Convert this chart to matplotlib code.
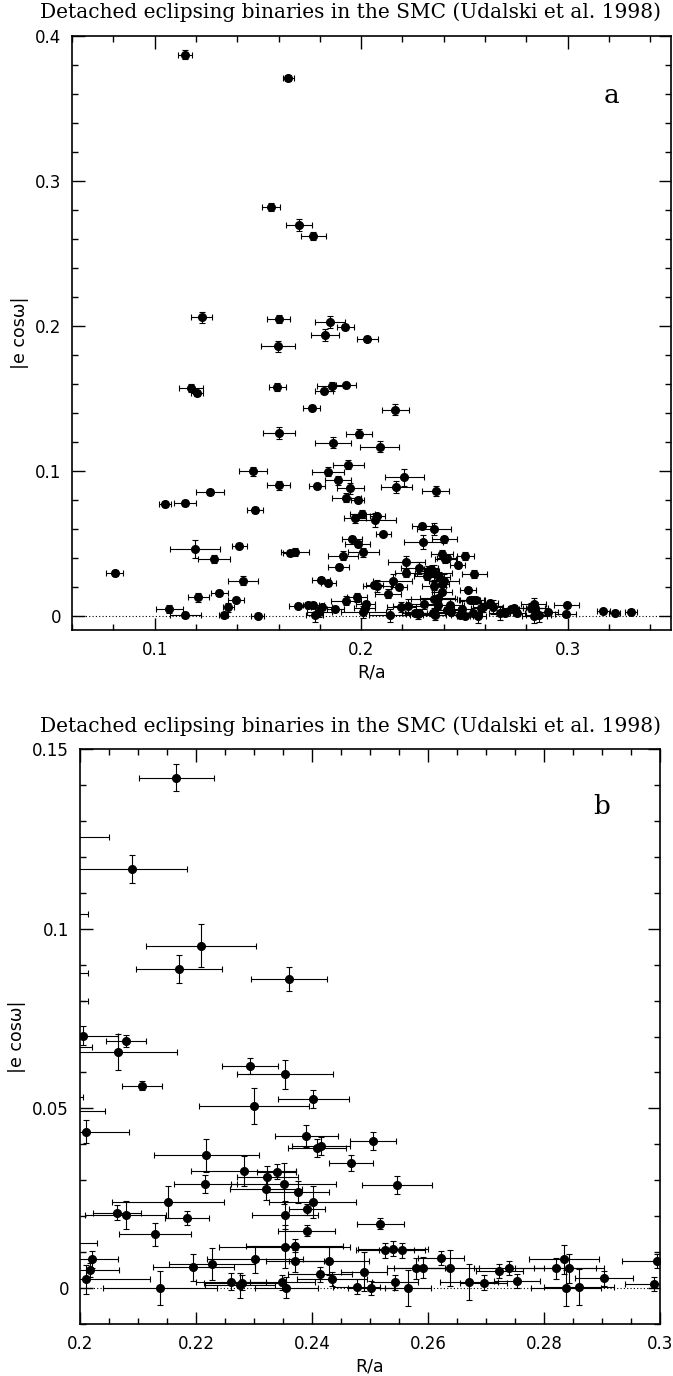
import numpy as np
import matplotlib.pyplot as plt
from matplotlib.ticker import MultipleLocator

# R/a, |e cos w| and their errors
r_a = [0.1147, 0.1648, 0.1565, 0.1698, 0.1769, 0.1228, 0.1600, 0.1849, 0.1924, 0.1825,
       0.2030, 0.1599, 0.1176, 0.1204, 0.1593, 0.1857, 0.1927, 0.1820, 0.1760, 0.1601,
       0.1862, 0.1988, 0.1475, 0.1938, 0.1841, 0.1886, 0.1600, 0.1785, 0.1948, 0.1927,
       0.1983, 0.1268, 0.1050, 0.1147, 0.1488, 0.1969, 0.1956, 0.1983, 0.1912, 0.1891,
       0.1409, 0.1197, 0.1286, 0.1656, 0.1681, 0.1429, 0.1806, 0.1841, 0.1312, 0.1394,
       0.1212, 0.1357, 0.1693, 0.1744, 0.1769, 0.1809, 0.1925, 0.1979, 0.1875, 0.0806,
       0.1334, 0.1071, 0.1148, 0.1499, 0.1775, 0.1798,
       0.2166, 0.2089, 0.2209, 0.2171, 0.2360, 0.2006, 0.2079, 0.2066, 0.2107, 0.2011,
       0.2293, 0.2353, 0.2300, 0.2402, 0.2390, 0.2408, 0.2416, 0.2467, 0.2505, 0.2218,
       0.2282, 0.2323, 0.2339, 0.2216, 0.2351, 0.2320, 0.2375, 0.2152, 0.2401, 0.2392,
       0.2064, 0.2079, 0.2184, 0.2353, 0.2391, 0.2130, 0.2021, 0.2017, 0.2010, 0.2138,
       0.2195, 0.2228, 0.2302, 0.2353, 0.2370, 0.2371, 0.2430, 0.2260, 0.2276, 0.2279,
       0.2349, 0.2356, 0.2414, 0.2434, 0.2490, 0.2477, 0.2502, 0.2543, 0.2566, 0.2592,
       0.2638, 0.2671, 0.2696, 0.2723, 0.2753, 0.2838, 0.2843, 0.2860, 0.2904, 0.2990,
       0.2547, 0.2518, 0.2622, 0.2525, 0.2540, 0.2555, 0.2580, 0.2740, 0.2820, 0.2835,
       0.2995, 0.3173, 0.3227, 0.3307]
ecosw = [0.3870, 0.3712, 0.2820, 0.2694, 0.2620, 0.2057, 0.2046, 0.2026, 0.1989, 0.1938,
         0.1910, 0.1857, 0.1570, 0.1538, 0.1577, 0.1582, 0.1588, 0.1547, 0.1434, 0.1260,
         0.1193, 0.1255, 0.0995, 0.1040, 0.0993, 0.0933, 0.0899, 0.0892, 0.0878, 0.0814,
         0.0798, 0.0853, 0.0770, 0.0775, 0.0731, 0.0671, 0.0531, 0.0494, 0.0414, 0.0333,
         0.0483, 0.0460, 0.0390, 0.0432, 0.0439, 0.0241, 0.0248, 0.0225, 0.0156, 0.0110,
         0.0126, 0.0057, 0.0069, 0.0076, 0.0076, 0.0057, 0.0103, 0.0126, 0.0046, 0.0294,
         0.0005, 0.0046, 0.0005, 0.0000, 0.0005, 0.0023,
         0.1420, 0.1166, 0.0953, 0.0888, 0.0860, 0.0702, 0.0688, 0.0658, 0.0563, 0.0435,
         0.0619, 0.0595, 0.0506, 0.0526, 0.0423, 0.0389, 0.0396, 0.0349, 0.0410, 0.0369,
         0.0326, 0.0310, 0.0324, 0.0290, 0.0290, 0.0276, 0.0267, 0.0240, 0.0240, 0.0219,
         0.0210, 0.0203, 0.0195, 0.0203, 0.0160, 0.0150, 0.0080, 0.0050, 0.0024, 0.0001,
         0.0058, 0.0067, 0.0080, 0.0115, 0.0118, 0.0075, 0.0075, 0.0018, 0.0008, 0.0015,
         0.0016, 0.0001, 0.0038, 0.0026, 0.0045, 0.0004, 0.0000, 0.0016, 0.0000, 0.0057,
         0.0057, 0.0016, 0.0015, 0.0048, 0.0019, 0.0000, 0.0055, 0.0004, 0.0027, 0.0011,
         0.0287, 0.0179, 0.0084, 0.0105, 0.0110, 0.0105, 0.0055, 0.0055, 0.0055, 0.0080,
         0.0075, 0.0028, 0.0017, 0.0027]
r_a_err = [0.0034, 0.0028, 0.0044, 0.0064, 0.0060, 0.0052, 0.0057, 0.0073, 0.0043, 0.0069,
           0.0050, 0.0082, 0.0058, 0.0030, 0.0041, 0.0069, 0.0050, 0.0044, 0.0043, 0.0078,
           0.0087, 0.0062, 0.0068, 0.0075, 0.0077, 0.0063, 0.0055, 0.0039, 0.0065, 0.0070,
           0.0030, 0.0069, 0.0027, 0.0052, 0.0039, 0.0052, 0.0050, 0.0060, 0.0073, 0.0050,
           0.0036, 0.0121, 0.0078, 0.0035, 0.0067, 0.0073, 0.0043, 0.0035, 0.0041, 0.0037,
           0.0052, 0.0025, 0.0040, 0.0050, 0.0050, 0.0050, 0.0073, 0.0050, 0.0040, 0.0042,
           0.0020, 0.0064, 0.0075, 0.0030, 0.0040, 0.0060,
           0.0065, 0.0095, 0.0095, 0.0074, 0.0065, 0.0060, 0.0034, 0.0102, 0.0035, 0.0074,
           0.0049, 0.0083, 0.0094, 0.0061, 0.0054, 0.0050, 0.0050, 0.0038, 0.0040, 0.0090,
           0.0090, 0.0053, 0.0033, 0.0054, 0.0091, 0.0062, 0.0055, 0.0096, 0.0075, 0.0031,
           0.0042, 0.0070, 0.0038, 0.0057, 0.0049, 0.0062, 0.0045, 0.0051, 0.0110, 0.0098,
           0.0070, 0.0074, 0.0083, 0.0113, 0.0083, 0.0050, 0.0069, 0.0060, 0.0060, 0.0065,
           0.0056, 0.0055, 0.0055, 0.0060, 0.0040, 0.0040, 0.0040, 0.0040, 0.0040, 0.0050,
           0.0050, 0.0050, 0.0040, 0.0040, 0.0040, 0.0060, 0.0060, 0.0060, 0.0050, 0.0050,
           0.0060, 0.0040, 0.0040, 0.0050, 0.0060, 0.0040, 0.0050, 0.0060, 0.0070, 0.0060,
           0.0060, 0.0030, 0.0025, 0.0030]
ecosw_err = [0.0030, 0.0020, 0.0030, 0.0040, 0.0030, 0.0040, 0.0030, 0.0040, 0.0020, 0.0040,
             0.0020, 0.0040, 0.0030, 0.0020, 0.0030, 0.0030, 0.0020, 0.0020, 0.0020, 0.0040,
             0.0040, 0.0030, 0.0030, 0.0030, 0.0030, 0.0030, 0.0030, 0.0020, 0.0040, 0.0030,
             0.0020, 0.0020, 0.0020, 0.0020, 0.0020, 0.0030, 0.0020, 0.0020, 0.0030, 0.0020,
             0.0020, 0.0060, 0.0030, 0.0020, 0.0030, 0.0030, 0.0020, 0.0020, 0.0020, 0.0020,
             0.0030, 0.0030, 0.0020, 0.0020, 0.0020, 0.0020, 0.0030, 0.0030, 0.0020, 0.0020,
             0.0020, 0.0030, 0.0020, 0.0020, 0.0050, 0.0030,
             0.0037, 0.0039, 0.0060, 0.0040, 0.0034, 0.0026, 0.0016, 0.0050, 0.0013, 0.0032,
             0.0022, 0.0041, 0.0050, 0.0026, 0.0030, 0.0025, 0.0025, 0.0022, 0.0025, 0.0045,
             0.0042, 0.0030, 0.0020, 0.0025, 0.0057, 0.0030, 0.0030, 0.0045, 0.0045, 0.0015,
             0.0020, 0.0039, 0.0020, 0.0040, 0.0015, 0.0032, 0.0023, 0.0020, 0.0040, 0.0047,
             0.0037, 0.0045, 0.0037, 0.0060, 0.0018, 0.0030, 0.0040, 0.0023, 0.0035, 0.0020,
             0.0020, 0.0030, 0.0020, 0.0020, 0.0054, 0.0020, 0.0020, 0.0020, 0.0050, 0.0030,
             0.0050, 0.0050, 0.0020, 0.0020, 0.0020, 0.0050, 0.0040, 0.0050, 0.0020, 0.0020,
             0.0025, 0.0015, 0.0020, 0.0020, 0.0020, 0.0020, 0.0030, 0.0020, 0.0030, 0.0040,
             0.0020, 0.0015, 0.0012, 0.0015]

title = 'Detached eclipsing binaries in the SMC (Udalski et al. 1998)'

W, H = 673, 1376
fig = plt.figure(figsize=(W / 100, H / 100), dpi=100)


def px_axes(left, top, right, bottom):
    return fig.add_axes([left / W, 1 - bottom / H, (right - left) / W, (bottom - top) / H])


ax_a = px_axes(72, 36, 671, 630)
ax_b = px_axes(80, 749, 660, 1324)

panels = [
    (ax_a, (0.06, 0.35), (-0.01, 0.4), 0.1, 0.02, 0.1, 0.02, 'a', 12),
    (ax_b, (0.2, 0.3), (-0.01, 0.15), 0.02, 0.005, 0.05, 0.01, 'b', 726),
]

for ax, xl, yl, xmaj, xmin, ymaj, ymin, tag, ty in panels:
    ax.errorbar(r_a, ecosw, xerr=r_a_err, yerr=ecosw_err, fmt='o', color='k',
                ms=5.5, elinewidth=0.8, capsize=2.5, capthick=0.8)
    ax.axhline(0, color='k', lw=0.8, ls=(0, (1, 2)))
    ax.set_xlim(*xl)
    ax.set_ylim(*yl)
    ax.xaxis.set_major_locator(MultipleLocator(xmaj))
    ax.xaxis.set_minor_locator(MultipleLocator(xmin))
    ax.yaxis.set_major_locator(MultipleLocator(ymaj))
    ax.yaxis.set_minor_locator(MultipleLocator(ymin))
    ax.xaxis.set_major_formatter(plt.FuncFormatter(lambda v, p: f'{v:g}'))
    ax.yaxis.set_major_formatter(plt.FuncFormatter(lambda v, p: f'{v:g}'))
    ax.tick_params(which='both', direction='in', top=True, right=True, labelsize=12)
    ax.tick_params(which='major', length=9, width=1, pad=8)
    ax.tick_params(which='minor', length=4.5, width=1)
    for s in ax.spines.values():
        s.set_linewidth(1.2)
    ax.set_xlabel('R/a', fontsize=12.5, labelpad=3)
    ax.set_ylabel('|e cos\u03c9|', fontsize=12.5, labelpad=4)
    ax.text(0.9, 0.9, tag, transform=ax.transAxes, fontsize=19, family='DejaVu Serif',
            ha='center', va='center')
    fig.text(351 / W, 1 - ty / H, title, family='DejaVu Serif', fontsize=14.5,
             ha='center', va='center')

fig.savefig('out.png', dpi=100)
